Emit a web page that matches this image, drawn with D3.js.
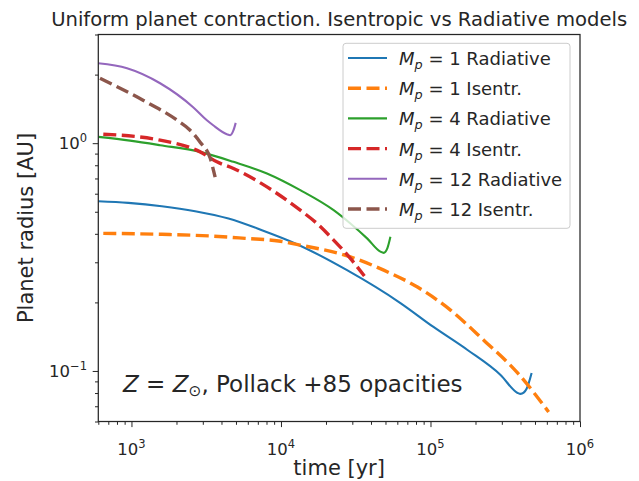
<!DOCTYPE html>
<html><head><meta charset="utf-8">
<script src="https://cdn.jsdelivr.net/npm/d3@7"></script>
<style>
body{margin:0;background:#fff}
svg{display:block}
text{font-family:"DejaVu Sans",sans-serif;fill:#262626}
</style>
</head><body><svg id="c" width="639" height="481"></svg>
<script>
// ---- data ----
const titleText = "Uniform planet contraction. Isentropic vs Radiative models";
const xLabel = "time [yr]";
const yLabel = "Planet radius [AU]";
const xDomain = [600, 1e6];
const yDomain = [0.06, 3];
const xMajorTicks = [1e3, 1e4, 1e5, 1e6];
const xTickExp = ["3", "4", "5", "6"];
const yMajorTicks = [1, 0.1];
const yTickExp = ["0", "\u22121"];

const seriesNames = ["1 Radiative", "1 Isentr.", "4 Radiative", "4 Isentr.", "12 Radiative", "12 Isentr."];
const seriesColors = ["#1f77b4", "#ff7f0e", "#2ca02c", "#d62728", "#9467bd", "#8c564b"];
const seriesDashed = [false, true, false, true, false, true];

const rad1_t = [600, 953, 1595, 2666, 4456, 7458, 12460, 27660, 62950, 104700, 176900, 294200, 382400, 400500, 420000, 439400, 474700];
const rad1_R = [0.556, 0.547, 0.529, 0.503, 0.467, 0.415, 0.363, 0.277, 0.1987, 0.156, 0.1236, 0.0960, 0.0801, 0.0793, 0.0803, 0.0835, 0.098];
const ise1_t = [648, 1595, 3449, 5766, 9634, 13460, 29120, 48660, 81800, 136100, 226300, 382400, 617000];
const ise1_R = [0.402, 0.398, 0.391, 0.382, 0.372, 0.357, 0.317, 0.277, 0.2335, 0.185, 0.1368, 0.098, 0.0661];
const rad4_t = [600, 978, 1554, 2880, 4813, 8057, 13460, 22500, 29120, 37660, 46240, 48660, 51500, 53950];
const rad4_R = [1.066, 1.026, 0.980, 0.916, 0.828, 0.736, 0.622, 0.508, 0.444, 0.382, 0.334, 0.330, 0.346, 0.388];
const ise4_t = [648, 1554, 2880, 3726, 4813, 8057, 13460, 17420, 22500, 29120, 36130];
const ise4_R = [1.095, 1.031, 0.916, 0.828, 0.774, 0.643, 0.508, 0.444, 0.3755, 0.312, 0.261];
const rad12_t = [600, 934, 1554, 2585, 3194, 3520, 4346, 4574, 4813, 4980];
const rad12_R = [2.243, 2.133, 1.833, 1.439, 1.261, 1.199, 1.095, 1.084, 1.140, 1.228];
const ise12_t = [616, 1195, 2020, 2468, 2880, 3360, 3628];
const ise12_R = [1.928, 1.544, 1.261, 1.140, 1.01, 0.860, 0.709];

const noteParts = ["Z", " = ", "Z", "\u2299", ", Pollack +85 opacities"];

// ---- layout ----
const W = 639, H = 481;
const m = {l: 98.3, r: 59, t: 34.5, b: 59.5};
const svg = d3.select("#c");
const x = d3.scaleLog().domain(xDomain).range([m.l, W - m.r]);
const y = d3.scaleLog().domain(yDomain).range([H - m.b, m.t]);
const ink = "#262626";

const series = [
  {t: rad1_t, R: rad1_R}, {t: ise1_t, R: ise1_R},
  {t: rad4_t, R: rad4_R}, {t: ise4_t, R: ise4_R},
  {t: rad12_t, R: rad12_R}, {t: ise12_t, R: ise12_R}
].map((s, i) => ({name: seriesNames[i], color: seriesColors[i], dashed: seriesDashed[i],
  pts: s.t.map((tv, j) => [tv, s.R[j]])}));

svg.append("defs").append("clipPath").attr("id", "clip").append("rect")
  .attr("x", m.l).attr("y", m.t).attr("width", W - m.r - m.l).attr("height", H - m.b - m.t);

const line = d3.line().x(d => x(d[0])).y(d => y(d[1])).curve(d3.curveMonotoneX);
const g = svg.append("g").attr("clip-path", "url(#clip)");
series.forEach(s => {
  g.append("path").attr("d", line(s.pts)).attr("fill", "none")
    .attr("stroke", s.color)
    .attr("stroke-width", s.dashed ? 3.4 : 2.1)
    .attr("stroke-dasharray", s.dashed ? "13,5.5" : null);
});

// axes
function minorTicks(domain) {
  const out = [];
  const lo = Math.floor(Math.log10(domain[0])), hi = Math.ceil(Math.log10(domain[1]));
  for (let e = lo; e <= hi; e++) for (let k = 2; k <= 9; k++) {
    const v = k * Math.pow(10, e);
    if (v >= domain[0] * 0.999 && v <= domain[1] * 1.001) out.push(v);
  }
  return out;
}
const xAxis = svg.append("g").attr("transform", `translate(0,${H - m.b})`)
  .call(d3.axisBottom(x).tickValues(xMajorTicks).tickSize(5.6).tickFormat(""));
const xMin = svg.append("g").attr("transform", `translate(0,${H - m.b})`)
  .call(d3.axisBottom(x).tickValues(minorTicks(xDomain)).tickSize(3.3).tickFormat(""));
const yAxis = svg.append("g").attr("transform", `translate(${m.l},0)`)
  .call(d3.axisLeft(y).tickValues(yMajorTicks).tickSize(5.6).tickFormat(""));
const yMin = svg.append("g").attr("transform", `translate(${m.l},0)`)
  .call(d3.axisLeft(y).tickValues(minorTicks(yDomain)).tickSize(3.3).tickFormat(""));
[xAxis, xMin, yAxis, yMin].forEach(a => {
  a.select(".domain").remove();
  a.selectAll(".tick line").attr("stroke", ink).attr("stroke-width", 1);
});

// frame
svg.append("rect").attr("x", m.l).attr("y", m.t).attr("width", W - m.r - m.l).attr("height", H - m.b - m.t)
  .attr("fill", "none").attr("stroke", ink).attr("stroke-width", 1.25);

// tick labels
xMajorTicks.forEach((v, i) => {
  const t = svg.append("text").attr("x", x(v)).attr("y", 455).attr("text-anchor", "middle").attr("font-size", 16.5);
  t.append("tspan").text("10");
  t.append("tspan").attr("dy", -7).attr("font-size", 11.5).text(xTickExp[i]);
});
yMajorTicks.forEach((v, i) => {
  const t = svg.append("text").attr("x", 87).attr("y", y(v) + 6).attr("text-anchor", "end").attr("font-size", 16.5);
  t.append("tspan").text("10");
  t.append("tspan").attr("dy", -7).attr("font-size", 11.5).text(yTickExp[i]);
});

// axis labels
svg.append("text").attr("x", (m.l + W - m.r) / 2).attr("y", 475).attr("text-anchor", "middle")
  .attr("font-size", 21).text(xLabel);
svg.append("text").attr("transform", `translate(33,${(m.t + H - m.b) / 2}) rotate(-90)`)
  .attr("text-anchor", "middle").attr("font-size", 21).text(yLabel);

// title
svg.append("text").attr("x", (m.l + W - m.r) / 2).attr("y", 25.5).attr("text-anchor", "middle")
  .attr("font-size", 19.6).text(titleText);

// note
const note = svg.append("text").attr("x", 123).attr("y", 392).attr("font-size", 23);
note.append("tspan").attr("font-style", "italic").text(noteParts[0]);
note.append("tspan").text(noteParts[1]);
note.append("tspan").attr("font-style", "italic").text(noteParts[2]);
note.append("tspan").attr("font-size", 15.5).attr("dy", 4).text(noteParts[3]);
note.append("tspan").attr("dy", -4).text(noteParts[4]);

// legend
const lg = svg.append("g");
lg.append("rect").attr("x", 343).attr("y", 43.3).attr("width", 227).attr("height", 185).attr("rx", 3)
  .attr("fill", "#fff").attr("fill-opacity", 0.8).attr("stroke", "#cccccc").attr("stroke-width", 1);
series.forEach((s, i) => {
  const cy = 58 + i * 30.2;
  lg.append("line").attr("x1", 348).attr("x2", 387).attr("y1", cy).attr("y2", cy)
    .attr("stroke", s.color).attr("stroke-width", s.dashed ? 3.4 : 2.1)
    .attr("stroke-dasharray", s.dashed ? "13,5.5" : null);
  const t = lg.append("text").attr("x", 399).attr("y", cy + 7).attr("font-size", 18);
  t.append("tspan").attr("font-style", "italic").text("M");
  t.append("tspan").attr("font-style", "italic").attr("font-size", 12.8).attr("dy", 4).text("p");
  t.append("tspan").attr("dy", -4).text(" = " + s.name);
});
</script>
</body></html>
